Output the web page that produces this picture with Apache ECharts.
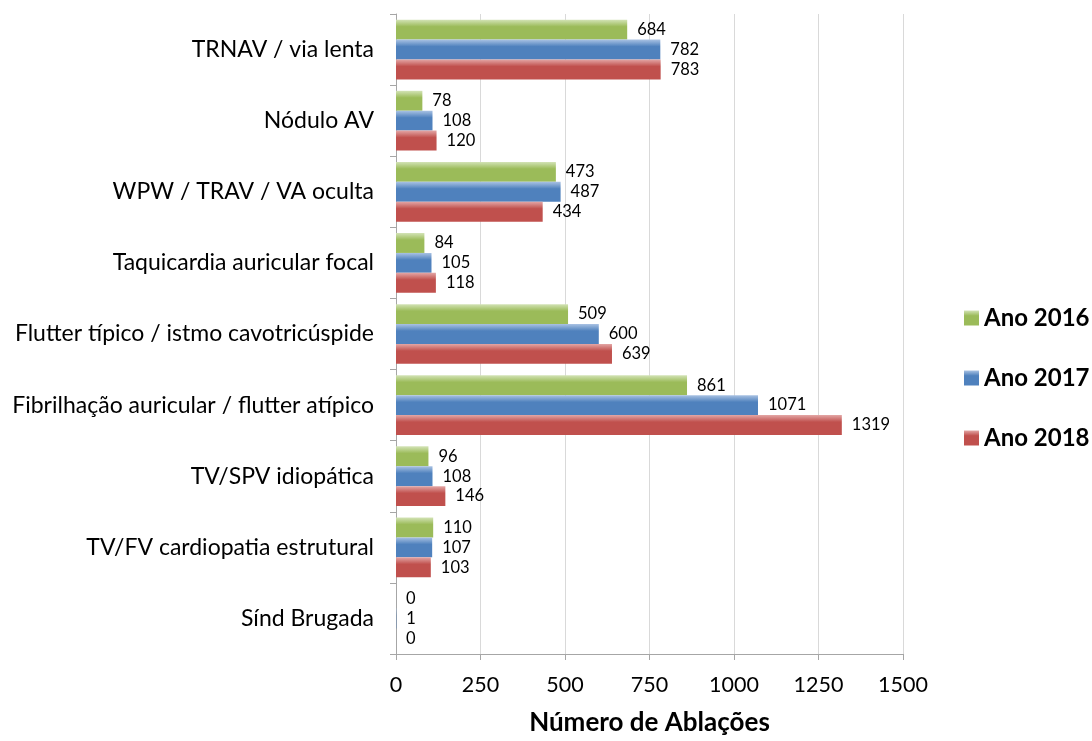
<!DOCTYPE html>
<html>
<head>
<meta charset="utf-8">
<script src="https://cdn.jsdelivr.net/npm/echarts@6/dist/echarts.min.js"></script>
<style>
  html, body { margin: 0; padding: 0; background: #fff; }
  #chart { width: 1092px; height: 741px; }
</style>
</head>
<body>
<div id="chart"></div>
<script>
var categories = [
  "TRNAV / via lenta",
  "Nódulo AV",
  "WPW / TRAV / VA oculta",
  "Taquicardia auricular focal",
  "Flutter típico / istmo cavotricúspide",
  "Fibrilhação auricular / flutter atípico",
  "TV/SPV idiopática",
  "TV/FV cardiopatia estrutural",
  "Sínd Brugada"
];
var seriesNames = ["Ano 2016", "Ano 2017", "Ano 2018"];
var values2016 = [684, 78, 473, 84, 509, 861, 96, 110, 0];
var values2017 = [782, 108, 487, 105, 600, 1071, 108, 107, 1];
var values2018 = [783, 120, 434, 118, 639, 1319, 146, 103, 0];
var xTicks = [0, 250, 500, 750, 1000, 1250, 1500];

var fontFam = "Lato, 'Open Sans', sans-serif";

function barGradient(light, base) {
  return new echarts.graphic.LinearGradient(0, 0, 0, 1, [
    { offset: 0, color: light },
    { offset: 0.35, color: base },
    { offset: 1, color: base }
  ]);
}

var colors = [
  { light: "#d3e3b6", base: "#9bbb59" },
  { light: "#a9c2e3", base: "#4f81bd" },
  { light: "#e3a6a5", base: "#c0504d" }
];
var dataSets = [values2016, values2017, values2018];

var chart = echarts.init(document.getElementById("chart"));

var series = dataSets.map(function (vals, i) {
  return {
    name: seriesNames[i],
    type: "bar",
    data: vals,
    barGap: "0%",
    barCategoryGap: "16%",
    itemStyle: { color: barGradient(colors[i].light, colors[i].base) },
    label: {
      show: true,
      position: "right",
      distance: 10,
      color: "#000",
      fontSize: 16.5,
      fontFamily: fontFam
    }
  };
});

var option = {
  animation: false,
  color: colors.map(function (c) { return c.base; }),
  grid: { left: 396, right: 189, top: 14, bottom: 83, containLabel: false },
  legend: {
    orient: "vertical",
    left: 959,
    top: 301,
    itemWidth: 15,
    itemHeight: 15,
    itemGap: 36,
    icon: "rect",
    data: seriesNames,
    textStyle: { fontSize: 24, fontWeight: "bold", color: "#000", fontFamily: fontFam }
  },
  xAxis: {
    type: "value",
    min: 0,
    max: 1500,
    interval: 250,
    name: "Número de Ablações",
    nameLocation: "middle",
    nameGap: 56,
    nameTextStyle: { fontSize: 26, fontWeight: "bold", color: "#000", fontFamily: fontFam },
    axisLine: { show: true, lineStyle: { color: "#a6a6a6" } },
    axisTick: { show: true, length: 6, lineStyle: { color: "#a6a6a6" } },
    axisLabel: {
      fontSize: 21.5, color: "#000", margin: 20, fontFamily: fontFam,
      formatter: function (v) { return xTicks.indexOf(v) >= 0 ? String(v) : ""; }
    },
    splitLine: { show: true, lineStyle: { color: "#d9d9d9" } }
  },
  yAxis: {
    type: "category",
    inverse: true,
    data: categories,
    axisLine: { show: true, lineStyle: { color: "#a6a6a6" } },
    axisTick: { show: true, length: 6, lineStyle: { color: "#a6a6a6" } },
    axisLabel: { fontSize: 23, color: "#000", margin: 22, fontFamily: fontFam },
    splitLine: { show: false }
  },
  series: series
};

chart.setOption(option);
</script>
</body>
</html>
